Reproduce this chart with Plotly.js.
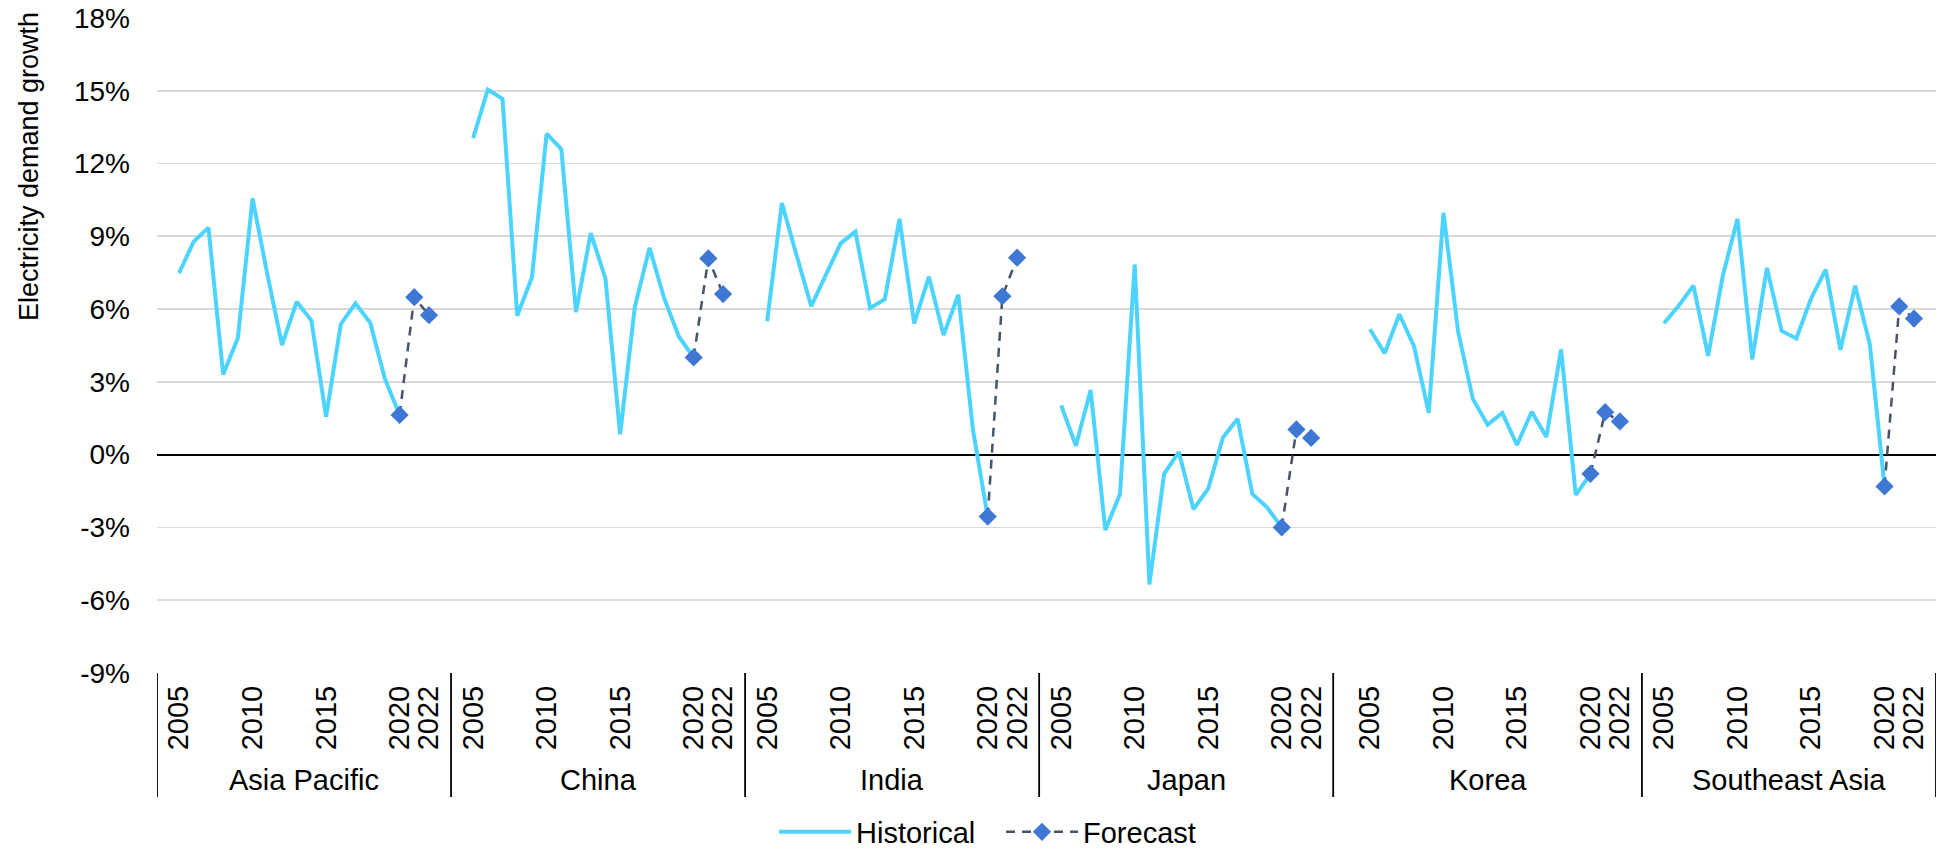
<!DOCTYPE html>
<html>
<head>
<meta charset="utf-8">
<script src="https://cdn.plot.ly/plotly-3.0.1.min.js"></script>
<style>
  html, body { margin: 0; padding: 0; background: #ffffff; }
  #chart { width: 1945px; height: 851px; }
</style>
</head>
<body>
<div id="chart"></div>
<script>
// ---------------- DATA ----------------
const regions = ['Asia Pacific', 'China', 'India', 'Japan', 'Korea', 'Southeast Asia'];
const years = [2005, 2006, 2007, 2008, 2009, 2010, 2011, 2012, 2013, 2014, 2015, 2016, 2017, 2018, 2019, 2020, 2021, 2022];
const historicalYears = [2005, 2006, 2007, 2008, 2009, 2010, 2011, 2012, 2013, 2014, 2015, 2016, 2017, 2018, 2019, 2020];
const forecastYears = [2020, 2021, 2022];
const labelYears = [2005, 2010, 2015, 2020, 2022];

// electricity demand growth (%), 2005-2022
const asiaPacific   = [7.48, 8.79, 9.36, 3.30, 4.81, 10.56, 7.45, 4.52, 6.30, 5.53, 1.56, 5.38, 6.24, 5.44, 3.13, 1.64, 6.49, 5.75];
const china         = [13.05, 15.05, 14.67, 5.73, 7.30, 13.23, 12.59, 5.88, 9.13, 7.27, 0.84, 6.09, 8.53, 6.44, 4.86, 4.01, 8.09, 6.62];
const india         = [5.50, 10.37, 8.22, 6.12, 7.42, 8.71, 9.19, 6.04, 6.41, 9.72, 5.41, 7.33, 4.93, 6.59, 1.01, -2.55, 6.53, 8.12];
const japan         = [2.03, 0.37, 2.67, -3.11, -1.62, 7.84, -5.35, -0.79, 0.11, -2.25, -1.40, 0.71, 1.48, -1.62, -2.17, -3.00, 1.04, 0.69];
const korea         = [5.17, 4.18, 5.79, 4.46, 1.72, 9.97, 5.06, 2.30, 1.23, 1.72, 0.40, 1.77, 0.73, 4.34, -1.66, -0.79, 1.75, 1.37];
const southeastAsia = [5.42, 6.14, 6.97, 4.07, 7.38, 9.72, 3.93, 7.70, 5.10, 4.79, 6.44, 7.63, 4.32, 6.97, 4.55, -1.31, 6.11, 5.61];

const yTickValues = [-9, -6, -3, 0, 3, 6, 9, 12, 15, 18];

// ---------------- LAYOUT HELPERS ----------------
const regionSeries = [asiaPacific, china, india, japan, korea, southeastAsia];
const leadingSlots = [1, 1, 1, 1, 2, 1];   // empty slots before first year in each group
const trailingSlots = 1;

const groupStart = [];
let cursor = 0;
regions.forEach((r, g) => {
  groupStart.push(cursor);
  cursor += leadingSlots[g] + years.length + trailingSlots;
});
const totalSlots = cursor;
const groupEnd = regions.map((r, g) => g < regions.length - 1 ? groupStart[g + 1] : totalSlots);

function xPos(g, year) {
  return groupStart[g] + leadingSlots[g] + years.indexOf(year) + 0.5;
}

const histX = [], histY = [], fcX = [], fcY = [];
regionSeries.forEach((series, g) => {
  historicalYears.forEach(yr => { histX.push(xPos(g, yr)); histY.push(series[years.indexOf(yr)]); });
  histX.push(null); histY.push(null);
  forecastYears.forEach(yr => { fcX.push(xPos(g, yr)); fcY.push(series[years.indexOf(yr)]); });
  fcX.push(null); fcY.push(null);
});

const tickVals = [], tickText = [];
regions.forEach((r, g) => {
  labelYears.forEach(yr => { tickVals.push(xPos(g, yr)); tickText.push(String(yr)); });
});

const FONT = 'Arial, "Liberation Sans", Helvetica, sans-serif';

const traces = [
  {
    x: histX, y: histY, type: 'scatter', mode: 'lines', name: 'Historical',
    line: { color: '#4CD3FE', width: 4 },
    connectgaps: false, hoverinfo: 'skip'
  },
  {
    x: fcX, y: fcY, type: 'scatter', mode: 'lines+markers', name: 'Forecast',
    line: { color: '#44546A', width: 2.5, dash: '9px,7px' },
    marker: { symbol: 'diamond', size: 14, color: '#3E78D4' },
    connectgaps: false, hoverinfo: 'skip'
  }
];

const plotBottomPx = 673, plotTopPx = 18, plotLeftPx = 157, plotRightPx = 1936;
const plotH = plotBottomPx - plotTopPx;
const plotW = plotRightPx - plotLeftPx;
const pyPaper = px => (plotBottomPx - px) / plotH;
const pxPaper = px => (px - plotLeftPx) / plotW;

const shapes = [];
const boundaries = [0].concat(groupEnd);
boundaries.forEach(b => {
  shapes.push({
    type: 'line', xref: 'x', yref: 'paper',
    x0: b, x1: b, y0: 0, y1: pyPaper(797),
    line: { color: '#000000', width: 1.8 }
  });
});

const annotations = regions.map((r, g) => ({
  x: (groupStart[g] + groupEnd[g]) / 2, xref: 'x',
  y: pyPaper(780), yref: 'paper',
  text: r, showarrow: false, xanchor: 'center', yanchor: 'middle',
  font: { family: FONT, size: 29, color: '#000000' }
}));
annotations.push({
  x: pxPaper(29), xref: 'paper', y: pyPaper(167), yref: 'paper',
  text: 'Electricity demand growth', textangle: -90, showarrow: false,
  xanchor: 'center', yanchor: 'middle',
  font: { family: FONT, size: 27, color: '#000000' }
});

const layout = {
  width: 1945, height: 851,
  margin: { l: plotLeftPx, r: 1945 - plotRightPx, t: plotTopPx, b: 851 - plotBottomPx, autoexpand: false },
  paper_bgcolor: '#ffffff', plot_bgcolor: '#ffffff',
  font: { family: FONT, size: 28, color: '#000000' },
  showlegend: true,
  legend: {
    orientation: 'h', xref: 'paper', yref: 'paper',
    x: pxPaper(1001), xanchor: 'center', y: pyPaper(832), yanchor: 'middle',
    font: { family: FONT, size: 29, color: '#000000' },
    itemwidth: 72, entrywidth: 140, entrywidthmode: 'pixels',
    tracegroupgap: 0, bgcolor: 'rgba(0,0,0,0)'
  },
  xaxis: {
    type: 'linear', range: [0, totalSlots],
    tickmode: 'array', tickvals: tickVals, ticktext: tickText,
    tickangle: -90, ticks: '', ticklabelstandoff: 6,
    tickfont: { family: FONT, size: 29, color: '#000000' },
    showgrid: false, zeroline: false, showline: false, fixedrange: true
  },
  yaxis: {
    range: [-9, 18],
    tickmode: 'array', tickvals: yTickValues,
    ticktext: yTickValues.map(v => String(v) + '%'),
    tickfont: { family: FONT, size: 28, color: '#000000' },
    ticks: '', ticklabelstandoff: 26,
    showgrid: true, gridcolor: '#D9D9D9', gridwidth: 1.8,
    zeroline: true, zerolinecolor: '#000000', zerolinewidth: 2.2,
    showline: false, fixedrange: true
  },
  shapes: shapes,
  annotations: annotations
};

Plotly.newPlot('chart', traces, layout, { displayModeBar: false, staticPlot: true });
</script>
</body>
</html>
